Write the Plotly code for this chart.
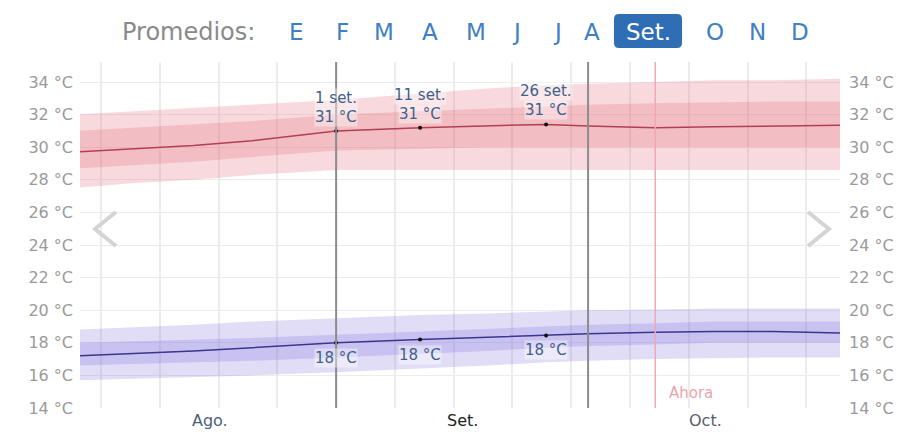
import plotly.graph_objects as go

# ── Data ──────────────────────────────────────────────────────────────────────
DATES = ["2025-08-01", "2025-08-08", "2025-08-15", "2025-08-22", "2025-09-01",
         "2025-09-11", "2025-09-19", "2025-09-26", "2025-10-01", "2025-10-09",
         "2025-10-16", "2025-10-23", "2025-10-31"]

HIGH_MEAN = [29.7, 29.9, 30.1, 30.4, 31.0, 31.2, 31.3, 31.4, 31.3, 31.2, 31.25, 31.3, 31.35]
HIGH_P90  = [32.0, 32.2, 32.4, 32.6, 32.9, 33.3, 33.6, 33.8, 33.9, 34.0, 34.1, 34.1, 34.2]
HIGH_P75  = [31.0, 31.2, 31.4, 31.6, 32.0, 32.2, 32.4, 32.5, 32.6, 32.7, 32.75, 32.8, 32.8]
HIGH_P25  = [28.7, 28.9, 29.1, 29.4, 29.8, 29.9, 30.0, 30.0, 30.0, 30.0, 30.0, 30.0, 30.0]
HIGH_P10  = [27.5, 27.8, 28.0, 28.3, 28.6, 28.6, 28.6, 28.6, 28.6, 28.6, 28.6, 28.6, 28.6]

LOW_MEAN = [17.2, 17.35, 17.5, 17.7, 18.0, 18.2, 18.35, 18.45, 18.55, 18.65, 18.7, 18.7, 18.6]
LOW_P90  = [18.8, 18.95, 19.1, 19.3, 19.5, 19.7, 19.8, 19.9, 20.0, 20.05, 20.1, 20.1, 20.1]
LOW_P75  = [18.0, 18.1, 18.2, 18.3, 18.5, 18.7, 18.9, 19.0, 19.1, 19.2, 19.3, 19.3, 19.3]
LOW_P25  = [16.6, 16.7, 16.8, 16.9, 17.1, 17.3, 17.5, 17.7, 17.8, 17.9, 18.0, 18.0, 18.0]
LOW_P10  = [15.7, 15.8, 15.9, 16.0, 16.2, 16.4, 16.6, 16.8, 16.9, 17.0, 17.05, 17.1, 17.1]

MARK_DATES  = ["2025-09-01", "2025-09-11", "2025-09-26"]
MARK_LABELS = ["1 set.", "11 set.", "26 set."]
MARK_HIGH   = [31.0, 31.2, 31.4]
MARK_LOW    = [18.0, 18.2, 18.45]

MONTH_STARTS = ["2025-09-01", "2025-10-01"]
AHORA = "2025-10-09"
MONTH_LABELS = ["Ago.", "Set.", "Oct."]
MONTH_LABEL_DATES = ["2025-08-17", "2025-09-16", "2025-10-15"]
MONTH_LABEL_COLORS = ["#4d5f7a", "#222222", "#555e6c"]

HEADER_LETTERS = ["E", "F", "M", "A", "M", "J", "J", "A", "Set.", "O", "N", "D"]
HEADER_X = [296, 342, 384, 430, 476, 517, 557, 592, 648, 715, 757, 800]

Y_TICKS = list(range(14, 35, 2))

# ── Theme / geometry ──────────────────────────────────────────────────────────
FONT = "DejaVu Sans"
GRID = "#ececec"
TICK = "#9a9a9a"
LBL = "#3f5f8c"
RED_FILL = "rgba(228,110,125,0.26)"
RED_LINE = "#b3404f"
BLUE_FILL = "rgba(120,100,220,0.22)"
BLUE_LINE = "#3c3590"

# page body adds an 8px offset; plot area sits at screen x 80..840, y 62..408
OFF = 8
W, H = 912 - OFF, 432 - OFF
L, T = 80 - OFF, 62 - OFF
PW, PH = 760, 346
R, B = W - L - PW, H - T - PH


def px(x):
    return (x - 80) / PW


def py(y):
    return (408 - y) / PH


def band(fig, lo, hi, color):
    fig.add_trace(go.Scatter(x=DATES, y=lo, mode="lines", line=dict(width=0),
                             hoverinfo="skip", showlegend=False))
    fig.add_trace(go.Scatter(x=DATES, y=hi, mode="lines", line=dict(width=0),
                             fill="tonexty", fillcolor=color,
                             hoverinfo="skip", showlegend=False))


fig = go.Figure()

band(fig, HIGH_P10, HIGH_P90, RED_FILL)
band(fig, HIGH_P25, HIGH_P75, RED_FILL)
fig.add_trace(go.Scatter(x=DATES, y=HIGH_MEAN, mode="lines",
                         line=dict(color=RED_LINE, width=1.5), showlegend=False))

band(fig, LOW_P10, LOW_P90, BLUE_FILL)
band(fig, LOW_P25, LOW_P75, BLUE_FILL)
fig.add_trace(go.Scatter(x=DATES, y=LOW_MEAN, mode="lines",
                         line=dict(color=BLUE_LINE, width=1.5), showlegend=False))

fig.add_trace(go.Scatter(x=MARK_DATES + MARK_DATES, y=MARK_HIGH + MARK_LOW,
                         mode="markers", marker=dict(color="#111", size=4),
                         showlegend=False))

# dummy trace so the right-hand axis is drawn
fig.add_trace(go.Scatter(x=[DATES[0]], y=[Y_TICKS[0]], yaxis="y2", mode="markers",
                         marker=dict(opacity=0), hoverinfo="skip", showlegend=False))

# ── Annotations ───────────────────────────────────────────────────────────────
ann = []
for d, lab, hi, lo in zip(MARK_DATES, MARK_LABELS, MARK_HIGH, MARK_LOW):
    common = dict(x=d, showarrow=False, xanchor="center", yanchor="middle",
                  font=dict(family=FONT, size=15, color=LBL),
                  bgcolor="rgba(255,255,255,0.4)", borderpad=0)
    ann.append(dict(y=hi, text=lab, yshift=33, **common))
    ann.append(dict(y=hi, text=f"{hi:.0f} °C", yshift=14, **common))
    ann.append(dict(y=lo, text=f"{lo:.0f} °C", yshift=-15, **common))


def paper_text(x, y, text, size, color):
    return dict(x=px(x), y=py(y), xref="paper", yref="paper", text=text,
                xanchor="center", yanchor="middle", showarrow=False,
                font=dict(family=FONT, size=size, color=color))


for d, lab, c in zip(MONTH_LABEL_DATES, MONTH_LABELS, MONTH_LABEL_COLORS):
    ann.append(dict(x=d, y=py(420), yref="paper", text=lab, showarrow=False,
                    xanchor="center", yanchor="middle",
                    font=dict(family=FONT, size=16, color=c)))

ann.append(paper_text(691, 393, "Ahora", 15, "#eca3ad"))
ann.append(paper_text(188, 32, "Promedios:", 24, "#8a8a8a"))
for lab, xp in zip(HEADER_LETTERS, HEADER_X):
    col = "white" if lab == "Set." else "#3f7fc4"
    ann.append(paper_text(xp, 32, lab, 23, col))

# ── Shapes ────────────────────────────────────────────────────────────────────
shapes = []
for d in MONTH_STARTS:
    shapes.append(dict(type="line", xref="x", yref="paper", x0=d, x1=d, y0=0, y1=1,
                       line=dict(color="#8c8c8c", width=2), layer="above"))
shapes.append(dict(type="line", xref="x", yref="paper", x0=AHORA, x1=AHORA, y0=0, y1=1,
                   line=dict(color="#eeaab2", width=1.5), layer="above"))


def chevron(pts):
    p = "M " + " L ".join(f"{px(a)},{py(b)}" for a, b in pts)
    return dict(type="path", xref="paper", yref="paper", path=p,
                line=dict(color="#d4d4d4", width=4), layer="above")


shapes.append(chevron([(116, 212), (95, 229), (116, 246)]))
shapes.append(chevron([(808, 212), (829, 229), (808, 246)]))

# rounded box behind the selected month
x0, x1, y0, y1 = px(614), px(682), py(48), py(14)
rx, ry = 5 / PW, 5 / PH
box = (f"M {x0+rx},{y0} L {x1-rx},{y0} Q {x1},{y0} {x1},{y0+ry} "
       f"L {x1},{y1-ry} Q {x1},{y1} {x1-rx},{y1} L {x0+rx},{y1} "
       f"Q {x0},{y1} {x0},{y1-ry} L {x0},{y0+ry} Q {x0},{y0} {x0+rx},{y0} Z")
shapes.append(dict(type="path", xref="paper", yref="paper", path=box,
                   fillcolor="#2f6db4", line=dict(width=0), layer="above"))

yaxis_common = dict(
    range=[14, 14 + PH / 16.3],
    tickvals=Y_TICKS,
    ticktext=[f"{t} °C" for t in Y_TICKS],
    tickfont=dict(family=FONT, size=16, color=TICK),
    zeroline=False, showline=False, ticks="", fixedrange=True,
)

fig.update_layout(
    width=W, height=H,
    margin=dict(l=L, r=R, t=T, b=B),
    plot_bgcolor="white", paper_bgcolor="white",
    showlegend=False,
    xaxis=dict(type="date", range=["2025-08-01 12:00", "2025-10-31"],
               showticklabels=False, ticks="", showgrid=True, gridcolor=GRID, gridwidth=1.5,
               tick0="2025-08-04", dtick=7 * 86400000, zeroline=False, showline=False),
    yaxis=dict(showgrid=True, gridcolor=GRID, gridwidth=1, ticklabelstandoff=6,
               **yaxis_common),
    yaxis2=dict(overlaying="y", side="right", showgrid=False, ticklabelstandoff=8,
                **yaxis_common),
    annotations=ann,
    shapes=shapes,
)

fig.write_html("out.html")
